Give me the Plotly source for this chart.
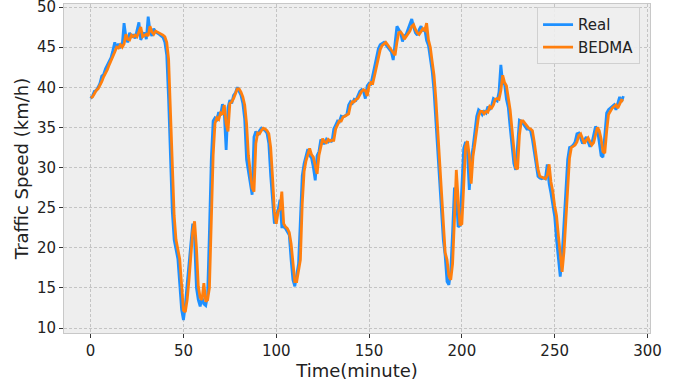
import plotly.graph_objects as go

time_minute = list(range(288))

real_speed = [
    38.6, 38.9, 39.5, 39.6, 40.0, 40.5, 41.4, 41.6, 42.3, 42.8,
    43.3, 43.7, 44.6, 45.6, 44.9, 45.4, 45.0, 45.2, 48.0, 46.3,
    45.6, 46.8, 46.2, 46.6, 46.1, 47.0, 48.1, 45.9, 46.5, 46.8,
    46.0, 48.8, 47.0, 46.4, 47.3, 46.9, 46.8, 46.6, 46.4, 46.2,
    45.6, 44.0, 38.5, 31.0, 24.5, 21.0, 19.8, 18.6, 15.5, 12.3,
    11.0, 12.8, 15.5, 18.0, 21.5, 23.0, 21.0, 15.0, 13.5, 12.7,
    13.8, 13.0, 12.8, 14.0, 22.0, 31.0, 35.8, 36.2, 36.0, 36.9,
    36.5, 37.9, 36.8, 32.2, 37.5, 38.4, 38.0, 39.0, 39.3, 40.0,
    39.5, 39.0, 38.0, 36.0, 31.0, 29.5, 28.0, 26.6, 33.8, 34.5,
    34.0, 34.6, 34.9, 34.8, 34.6, 34.3, 33.0, 29.0, 26.0, 23.0,
    24.2, 24.7, 26.0, 22.6, 22.6, 22.4, 22.0, 21.6, 18.5, 16.0,
    15.2, 16.5, 18.0, 23.5, 29.0, 30.5, 31.3, 32.3, 31.5, 31.2,
    30.0, 28.4, 31.5, 32.0, 33.5, 33.0, 33.0, 33.5, 33.2, 33.4,
    33.2, 34.8, 35.3, 35.8, 35.7, 36.4, 36.3, 36.5, 36.6, 37.8,
    38.2, 38.0, 38.5, 38.4, 39.0, 39.5, 39.7, 39.5, 38.6, 40.2,
    40.5, 40.4, 41.5, 42.6, 43.6, 44.8, 45.3, 45.4, 45.6, 45.3,
    45.0, 44.6, 44.4, 43.4, 46.0, 47.6, 47.2, 46.8, 45.7, 46.4,
    46.6, 47.2, 47.8, 48.5, 47.5, 46.8, 46.5, 47.2, 47.6, 47.0,
    47.3, 45.8, 45.2, 43.5, 42.0, 39.5, 35.5, 31.5, 27.5, 24.0,
    21.0, 19.0, 15.8, 15.4, 17.0, 22.0, 27.5, 26.5, 22.6, 22.8,
    28.0, 32.4, 33.2, 32.0, 27.2, 31.0, 32.5, 34.8, 36.4, 37.2,
    37.0, 36.6, 37.0, 36.8, 37.6, 37.3, 37.7, 38.6, 38.4, 38.3,
    39.4, 42.8, 40.5, 40.4, 38.5, 37.5, 35.0, 32.5, 30.5, 29.7,
    33.5, 35.9, 35.8, 35.5, 35.2, 34.8, 34.8, 34.6, 33.5, 31.8,
    30.0, 28.9, 28.7, 28.6, 28.7, 28.6, 30.4, 28.0, 26.8, 25.0,
    23.9, 21.0, 18.5, 16.4, 19.0, 22.5, 27.0, 31.0, 32.5, 32.6,
    32.8, 33.2, 34.2, 34.3, 33.6, 33.0, 33.4, 33.8, 33.2, 32.6,
    33.0, 34.0, 35.1, 34.8, 33.4, 31.5, 31.3, 34.0, 36.8, 37.2,
    37.4, 37.6, 37.8, 37.2, 38.0, 38.8, 38.2, 38.9,
]

bedma_speed = [
    38.7, 38.8, 39.2, 39.6, 39.8, 40.2, 40.7, 41.3, 41.7, 42.2,
    42.8, 43.3, 43.7, 44.4, 45.0, 44.9, 45.3, 45.0, 45.4, 46.6,
    46.0, 45.9, 46.5, 46.3, 46.5, 46.3, 46.9, 47.5, 46.3, 46.5,
    46.6, 46.4, 47.6, 46.9, 46.6, 47.0, 46.9, 46.8, 46.6, 46.5,
    46.3, 45.6, 43.5, 37.5, 30.5, 24.0, 21.0, 19.6, 18.6, 15.4,
    12.2, 12.0, 13.5, 16.0, 18.5, 22.0, 23.3, 20.0, 15.2, 13.8,
    13.5, 15.6, 13.3, 13.5, 15.0, 23.5, 31.5, 35.5, 36.2, 36.0,
    36.8, 36.6, 37.8, 35.5, 34.5, 38.0, 38.2, 38.6, 39.2, 39.8,
    39.8, 39.4, 38.8, 37.8, 35.5, 31.5, 29.5, 27.5, 27.0, 33.0,
    34.3, 34.2, 34.6, 34.9, 34.8, 34.6, 34.2, 32.5, 28.8, 24.5,
    23.0, 24.5, 24.8, 27.0, 23.0, 22.6, 22.4, 21.9, 20.5, 17.6,
    15.8, 15.8, 17.0, 18.5, 25.5, 29.5, 30.8, 31.5, 32.4, 31.6,
    31.3, 30.2, 29.2, 31.5, 32.5, 33.6, 33.2, 33.1, 33.5, 33.3,
    33.4, 33.4, 34.8, 35.3, 35.8, 35.8, 36.3, 36.4, 36.5, 36.7,
    37.8, 38.2, 38.2, 38.5, 38.6, 39.1, 39.5, 39.7, 39.6, 38.9,
    40.2, 40.6, 40.5, 41.5, 42.7, 43.6, 44.7, 45.2, 45.4, 45.6,
    45.3, 45.0, 44.6, 44.4, 44.0, 45.6, 46.8, 46.9, 46.6, 46.0,
    46.3, 46.6, 47.0, 47.6, 47.8, 47.2, 46.8, 46.6, 47.0, 47.3,
    47.1, 48.0, 45.9, 45.0, 43.2, 41.5, 38.5, 34.5, 30.5, 26.5,
    23.5, 19.4, 18.5, 16.5, 16.0, 18.0, 23.5, 29.7, 26.0, 22.8,
    23.0, 29.0, 32.6, 33.3, 31.5, 28.0, 31.4, 33.0, 35.0, 36.4,
    37.0, 37.0, 36.7, 37.0, 36.9, 37.6, 37.4, 37.8, 38.5, 38.6,
    38.5, 39.6, 41.5, 40.6, 40.2, 38.5, 37.2, 34.8, 32.0, 30.0,
    29.8, 34.0, 35.8, 35.8, 35.5, 35.2, 34.9, 34.8, 34.6, 33.2,
    31.5, 29.8, 28.9, 28.8, 28.7, 28.6, 29.0, 30.4, 28.2, 27.0,
    25.2, 24.0, 21.5, 19.0, 17.0, 19.5, 23.0, 27.5, 31.2, 32.5,
    32.6, 32.8, 33.2, 34.0, 34.2, 33.6, 33.0, 33.4, 33.7, 33.2,
    32.8, 33.1, 34.0, 35.0, 34.6, 33.6, 32.0, 31.8, 34.5, 36.6,
    37.0, 37.4, 37.6, 37.8, 37.4, 37.9, 38.4, 38.3,
]

x_ticks = [0, 50, 100, 150, 200, 250, 300]
y_ticks = [10, 15, 20, 25, 30, 35, 40, 45, 50]

fig = go.Figure()
fig.add_trace(go.Scatter(x=time_minute, y=real_speed, mode="lines", name="Real",
                         line=dict(color="#1E90FF", width=2.8)))
fig.add_trace(go.Scatter(x=time_minute, y=bedma_speed, mode="lines", name="BEDMA",
                         line=dict(color="#FF7F0E", width=2.8)))

axis_common = dict(
    showgrid=True, gridcolor="#c4c4c4", gridwidth=0.8, griddash="3px,2px",
    zeroline=False, showline=True, linecolor="#c8c8c8", linewidth=1, mirror=True,
    ticks="outside", ticklen=4, tickcolor="#333333", tickwidth=1,
    tickfont=dict(family="DejaVu Sans", size=15, color="#222222"),
    automargin=False, ticklabeloverflow="allow",
)

fig.update_layout(
    width=683, height=386,
    margin=dict(l=64, r=33, t=4, b=53),
    paper_bgcolor="white", plot_bgcolor="#eeeeee",
    font=dict(family="DejaVu Sans", color="#222222"),
    xaxis=dict(range=[-14.35, 301.35], tickvals=x_ticks,
               title=dict(text="Time(minute)", font=dict(size=18), standoff=2),
               **axis_common),
    yaxis=dict(range=[9.38, 50.38], tickvals=y_ticks,
               title=dict(text="Traffic Speed (km/h)", font=dict(size=18), standoff=3),
               **axis_common),
    legend=dict(x=0.983, y=0.99, xanchor="right", yanchor="top",
                bgcolor="rgba(238,238,238,0.9)", bordercolor="#d0d0d0", borderwidth=1,
                font=dict(family="DejaVu Sans", size=15, color="#222222"),
                tracegroupgap=0),
    showlegend=True,
)

fig.write_html("out.html", config={"displayModeBar": False},
               post_script="document.body.style.margin='0px';document.body.style.overflow='hidden';")
